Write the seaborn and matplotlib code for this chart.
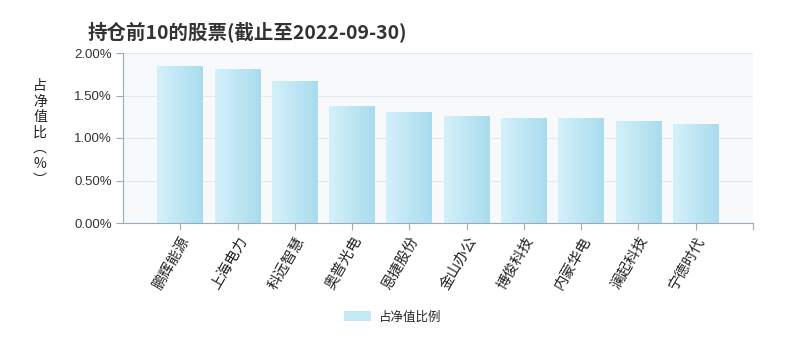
import matplotlib
matplotlib.use("Agg")
import matplotlib.pyplot as plt
import numpy as np
import pandas as pd
import seaborn as sns
from matplotlib.colors import LinearSegmentedColormap
from matplotlib.patches import Patch

# data
stocks = ["鹏辉能源", "上海电力", "科远智慧", "奥普光电", "恩捷股份",
          "金山办公", "博俊科技", "内蒙华电", "澜起科技", "宁德时代"]
ratios = [1.85, 1.81, 1.67, 1.38, 1.31, 1.26, 1.24, 1.24, 1.20, 1.16]
yticks = [0.0, 0.5, 1.0, 1.5, 2.0]
title = "持仓前10的股票(截止至2022-09-30)"
ylabel_chars = ["占", "净", "值", "比", "︵", "%", "︶"]
legend_label = "占净值比例"

sns.set_theme(style="white")
plt.rcParams["font.family"] = ["Noto Sans CJK SC", "DejaVu Sans"]

df = pd.DataFrame({"stock": stocks, "ratio": ratios})
# categories sit on 1..10, the axis runs 0..11
df["pos"] = np.arange(1, len(stocks) + 1)

fig = plt.figure(figsize=(7.97, 3.55), dpi=100)
ax = fig.add_axes([123 / 797, 1 - 223 / 355, 630 / 797, 170 / 355])
ax.set_facecolor("#f8f9fb")

sns.barplot(data=df, x="pos", y="ratio", native_scale=True, width=0.8,
            color="#c4eaf6", linewidth=0, ax=ax)

# horizontal gradient fill clipped to each bar
grad_cmap = LinearSegmentedColormap.from_list("bar", ["#d4f1fb", "#a9dcee"])
grad = np.linspace(0, 1, 64).reshape(1, -1)
for patch in ax.patches:
    x0, y0 = patch.get_x(), patch.get_y()
    w, h = patch.get_width(), patch.get_height()
    im = ax.imshow(grad, cmap=grad_cmap, aspect="auto",
                   extent=[x0, x0 + w, y0, y0 + h], zorder=2)
    im.set_clip_path(patch)

ax.set_xlim(0, 11)
ax.set_ylim(0, 2.0)
ax.set_yticks(yticks)
ax.set_yticklabels([f"{v:.2f}%" for v in yticks], fontsize=9.5,
                   family=["Liberation Sans", "DejaVu Sans"], color="#333333")
ax.set_xticks(list(df["pos"]) + [11])
ax.set_xticklabels(stocks + [""], rotation=60, ha="right",
                   rotation_mode="anchor", fontsize=10.5, color="#222222")
ax.tick_params(axis="both", length=5, width=0.8, color="#9aabb9",
               direction="out", bottom=True, left=True, pad=3)
ax.grid(axis="y", color="#e3e8ef", linewidth=0.8)
ax.set_axisbelow(True)
for side in ["top", "right"]:
    ax.spines[side].set_visible(False)
for side in ["left", "bottom"]:
    ax.spines[side].set_color("#9aabb9")
    ax.spines[side].set_linewidth(0.8)
ax.set_xlabel("")
ax.set_ylabel("")

fig.text(88 / 797, 1 - 32 / 355, title, fontsize=14, fontweight="bold",
         color="#333333", va="center", ha="left")
fig.text(40 / 797, 1 - 133 / 355, "\n".join(ylabel_chars), fontsize=10,
         color="#222222", va="center", ha="center", linespacing=1.15)

handle = Patch(facecolor="#c4eaf6", edgecolor="none")
fig.legend([handle], [legend_label], loc="center", frameon=False,
           bbox_to_anchor=(392 / 797, 1 - 317 / 355), fontsize=9,
           handlelength=2.2, handleheight=0.8, handletextpad=0.5)

fig.savefig("out.png", dpi=100)
